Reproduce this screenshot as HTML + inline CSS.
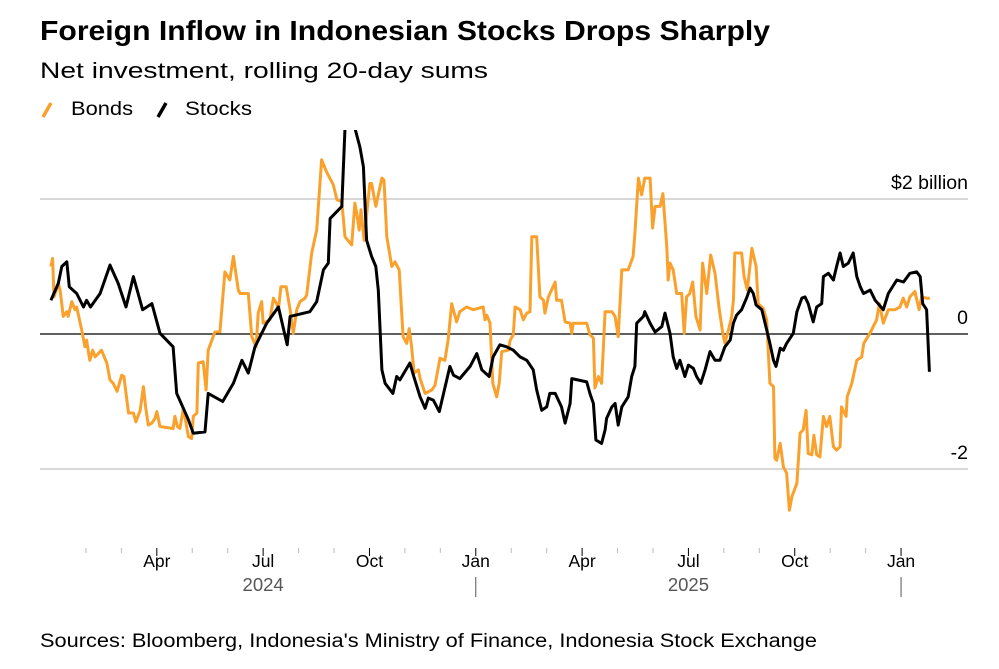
<!DOCTYPE html>
<html><head><meta charset="utf-8"><style>
body{margin:0;background:#fff;width:999px;height:669px;overflow:hidden;font-family:"Liberation Sans",sans-serif}
svg{position:absolute;left:0;top:0}
</style></head><body>
<svg id="c" width="999" height="669">
<text x="40" y="40" font-size="28" font-weight="bold" fill="#000" textLength="730" lengthAdjust="spacingAndGlyphs">Foreign Inflow in Indonesian Stocks Drops Sharply</text>
<text x="40" y="78" font-size="22" fill="#000" textLength="448" lengthAdjust="spacingAndGlyphs">Net investment, rolling 20-day sums</text>
<g>
<line x1="43" y1="117" x2="51" y2="103" stroke="#f9a12c" stroke-width="3.5"/>
<text x="71" y="115" font-size="19" textLength="62" lengthAdjust="spacingAndGlyphs">Bonds</text>
<line x1="158" y1="117" x2="166" y2="103" stroke="#000" stroke-width="3.5"/>
<text x="185" y="115" font-size="19" textLength="67" lengthAdjust="spacingAndGlyphs">Stocks</text>
</g>
<defs><clipPath id="pc"><rect x="30" y="130" width="960" height="420"/></clipPath></defs>
<g id="grid"></g><g id="axis"></g>
<g id="lines" clip-path="url(#pc)"></g>
<text x="40" y="647" font-size="19" textLength="777" lengthAdjust="spacingAndGlyphs">Sources: Bloomberg, Indonesia's Ministry of Finance, Indonesia Stock Exchange</text>
</svg>
<script>
// months since Jan 1 2024, values in $ billions
const stockMonths=[0.01,0.22,0.32,0.46,0.53,0.74,0.93,1.02,1.13,1.40,1.68,1.91,2.13,2.34,2.60,2.86,3.09,3.46,3.56,3.89,4.03,4.36,4.45,4.86,5.16,5.40,5.58,5.77,6.10,6.43,6.68,6.76,7.32,7.51,7.70,7.84,7.89,8.22,8.31,8.59,8.73,8.83,8.92,9.06,9.18,9.25,9.35,9.44,9.66,9.77,9.86,10.05,10.14,10.24,10.43,10.57,10.66,10.80,10.97,11.27,11.37,11.55,11.84,12.03,12.17,12.38,12.49,12.68,12.87,13.06,13.25,13.44,13.62,13.72,13.86,14.00,14.09,14.24,14.42,14.52,14.66,14.71,15.13,15.22,15.32,15.39,15.55,15.65,15.69,15.84,15.93,16.02,16.12,16.30,16.40,16.49,16.54,16.73,16.77,16.92,17.06,17.25,17.34,17.48,17.57,17.67,17.76,17.90,18.00,18.14,18.23,18.35,18.47,18.61,18.75,18.89,19.03,19.18,19.27,19.36,19.50,19.64,19.74,19.83,19.91,20.07,20.21,20.30,20.40,20.47,20.59,20.68,20.77,20.96,21.06,21.20,21.29,21.38,21.52,21.62,21.76,21.81,21.95,22.09,22.18,22.28,22.37,22.51,22.65,22.75,22.85,22.94,23.13,23.27,23.50,23.64,23.88,24.07,24.25,24.44,24.54,24.61,24.72,24.80];
const stockValues=[0.50,0.75,1.00,1.07,0.70,0.60,0.40,0.50,0.40,0.60,1.02,0.75,0.40,0.85,0.36,0.45,0.01,-0.19,-0.88,-1.27,-1.47,-1.45,-0.88,-1.00,-0.73,-0.39,-0.58,-0.19,0.16,0.40,-0.16,0.26,0.33,0.48,0.95,1.05,1.71,1.89,3.05,3.05,2.77,2.48,1.39,1.15,1.00,0.65,-0.53,-0.73,-0.88,-0.63,-0.68,-0.51,-0.43,-0.61,-0.93,-1.10,-0.95,-0.98,-1.15,-0.48,-0.61,-0.66,-0.48,-0.29,-0.53,-0.63,-0.34,-0.16,-0.19,-0.24,-0.34,-0.39,-0.53,-0.83,-1.13,-1.08,-0.88,-0.88,-1.08,-1.32,-1.03,-0.66,-0.71,-0.88,-1.03,-1.57,-1.62,-1.42,-1.25,-1.08,-1.03,-1.35,-1.08,-0.93,-0.63,-0.48,0.16,0.26,0.33,0.16,0.03,0.11,0.31,0.01,-0.34,-0.51,-0.39,-0.63,-0.46,-0.51,-0.63,-0.73,-0.53,-0.26,-0.39,-0.39,-0.19,-0.09,0.16,0.28,0.36,0.53,0.68,0.60,0.43,0.36,0.06,-0.14,-0.39,-0.48,-0.21,-0.24,-0.14,0.01,0.33,0.53,0.55,0.45,0.18,0.40,0.45,0.85,0.90,0.80,1.00,1.20,1.00,1.05,1.20,0.85,0.70,0.60,0.65,0.50,0.36,0.60,0.80,0.77,0.90,0.92,0.85,0.45,0.36,-0.56];
const bondMonths=[0.01,0.06,0.10,0.22,0.27,0.36,0.46,0.50,0.60,0.69,0.74,0.88,0.97,1.02,1.11,1.19,1.26,1.44,1.59,1.68,1.77,1.88,2.01,2.07,2.20,2.34,2.41,2.53,2.62,2.69,2.76,2.86,2.95,3.00,3.09,3.46,3.51,3.58,3.65,3.75,3.89,3.98,4.03,4.13,4.17,4.31,4.39,4.45,4.64,4.78,4.92,5.06,5.16,5.30,5.35,5.58,5.68,5.80,5.86,5.96,6.00,6.19,6.29,6.38,6.43,6.50,6.65,6.76,6.85,6.95,7.04,7.18,7.23,7.37,7.51,7.65,7.79,7.98,8.08,8.22,8.31,8.50,8.59,8.64,8.71,8.76,8.85,9.01,9.06,9.18,9.35,9.41,9.49,9.63,9.72,9.84,9.95,10.05,10.12,10.19,10.26,10.38,10.43,10.57,10.76,10.85,10.99,11.13,11.22,11.32,11.46,11.55,11.74,11.93,12.21,12.26,12.31,12.40,12.48,12.59,12.66,12.73,12.92,12.97,13.06,13.11,13.25,13.34,13.44,13.53,13.58,13.72,13.81,13.91,13.95,14.05,14.24,14.28,14.42,14.52,14.66,14.71,14.75,15.13,15.22,15.32,15.36,15.46,15.55,15.65,15.84,15.93,16.02,16.12,16.30,16.44,16.49,16.59,16.68,16.77,16.92,16.99,17.06,17.20,17.28,17.39,17.43,17.48,17.57,17.67,17.81,17.88,17.95,18.04,18.12,18.21,18.33,18.40,18.52,18.63,18.75,18.87,18.97,19.03,19.13,19.22,19.27,19.31,19.50,19.57,19.66,19.79,19.91,19.97,20.11,20.21,20.30,20.40,20.44,20.49,20.59,20.68,20.77,20.85,20.92,21.06,21.15,21.24,21.32,21.38,21.48,21.54,21.62,21.71,21.81,21.90,21.99,22.09,22.18,22.28,22.32,22.45,22.48,22.61,22.75,22.89,22.95,23.12,23.31,23.39,23.50,23.64,23.83,23.97,24.06,24.16,24.25,24.39,24.51,24.58,24.72,24.81];
const bondValues=[1.00,1.12,0.55,0.75,0.65,0.26,0.33,0.26,0.48,0.36,0.40,0.06,-0.19,-0.09,-0.39,-0.24,-0.34,-0.24,-0.43,-0.68,-0.73,-0.85,-0.61,-0.63,-1.17,-1.17,-1.30,-1.13,-0.78,-1.10,-1.35,-1.32,-1.25,-1.15,-1.37,-1.40,-1.22,-1.37,-1.40,-1.10,-1.52,-1.55,-1.22,-1.17,-0.43,-0.41,-0.83,-0.24,0.03,0.03,0.92,0.80,1.15,0.65,0.60,0.60,-0.04,-0.19,0.31,0.48,0.16,0.21,0.53,0.45,0.36,0.70,0.70,0.36,0.01,0.36,0.48,0.53,0.58,1.20,1.54,2.58,2.40,2.21,1.99,1.96,1.44,1.32,1.94,1.79,1.54,1.84,1.39,2.23,2.23,1.89,2.31,2.28,1.44,1.00,1.07,0.95,-0.04,-0.14,0.08,-0.19,-0.58,-0.53,-0.66,-0.88,-0.83,-0.76,-0.36,-0.39,-0.09,0.45,0.18,0.33,0.40,0.36,0.40,0.21,0.28,0.16,-0.73,-0.93,-0.73,-0.26,-0.24,-0.09,-0.01,0.40,0.36,0.21,0.31,0.33,1.44,1.44,0.55,0.50,0.31,0.55,0.77,0.50,0.50,0.18,0.16,0.01,0.16,0.16,-0.01,-0.06,-0.80,-0.63,-0.73,0.33,0.33,0.26,-0.04,0.95,0.95,1.15,1.49,2.31,2.06,2.31,2.31,1.57,1.89,1.89,2.08,1.29,0.80,1.05,0.95,0.60,0.60,0.01,0.55,0.60,0.77,0.26,0.06,1.05,0.60,1.17,0.90,0.36,0.01,-0.14,0.06,0.26,0.50,1.20,1.20,0.85,0.65,1.27,1.00,0.45,0.38,0.21,-0.73,-0.78,-1.84,-1.87,-1.62,-1.97,-2.06,-2.61,-2.41,-2.21,-1.47,-1.42,-1.13,-1.77,-1.79,-1.50,-1.79,-1.82,-1.22,-1.37,-1.22,-1.67,-1.72,-1.67,-1.08,-1.22,-0.93,-0.73,-0.39,-0.34,-0.14,0.01,0.21,0.45,0.16,0.36,0.36,0.40,0.53,0.40,0.55,0.63,0.36,0.55,0.53,0.53];
const yTicks=[2,0,-2];
const yTickLabels=["$2 billion","0","-2"];
const monthLabels=[[3,"Apr"],[6,"Jul"],[9,"Oct"],[12,"Jan"],[15,"Apr"],[18,"Jul"],[21,"Oct"],[24,"Jan"]];
const yearLabels=[[6,"2024"],[18,"2025"]];
const yearSeps=[12,24];

const NS="http://www.w3.org/2000/svg";
const X=m=>50.5+m*35.44;
const Y=v=>334-v*67.5;
function mk(tag,attrs,parent){const e=document.createElementNS(NS,tag);for(const k in attrs)e.setAttribute(k,attrs[k]);parent.appendChild(e);return e;}
const grid=document.getElementById('grid'),axis=document.getElementById('axis'),lines=document.getElementById('lines');
yTicks.forEach((t,i)=>{
  const l=mk('line',{x1:40,x2:968,y1:Y(t),y2:Y(t),stroke:t===0?'#000':'#ccc','stroke-width':t===0?1.2:1.5},grid);
  
  
  const tx=mk('text',{x:968,y:Y(t)-10,'text-anchor':'end','font-size':19.5},grid);
  tx.textContent=yTickLabels[i];
  
  
});
for(let m=1;m<=24;m++){
  const major=m%3===0;
  const t=mk('line',{x1:X(m),x2:X(m),y1:548,y2:major?556:553,stroke:major?'#000':'#bbb','stroke-width':1},axis);
  
  
}
monthLabels.forEach(([m,s])=>{
  const t=mk('text',{x:X(m),y:567,'text-anchor':'middle','font-size':17.5},axis);
  t.textContent=s;
  
  
});
yearLabels.forEach(([m,s])=>{
  const t=mk('text',{x:X(m),y:591,'text-anchor':'middle','font-size':18.5,fill:'#555'},axis);
  t.textContent=s;
  
  
});
yearSeps.forEach(m=>{
  const l=mk('line',{x1:X(m),x2:X(m),y1:577,y2:597,stroke:'#555','stroke-width':1},axis);
  
  
});
function path(ms,vs){return ms.map((m,i)=>(i?'L':'M')+X(m).toFixed(1)+','+Y(vs[i]).toFixed(1)).join('');}
const bp=mk('path',{d:path(bondMonths,bondValues),fill:'none',stroke:'#f9a12c','stroke-width':3,'stroke-linejoin':'round'},lines);


const sp=mk('path',{d:path(stockMonths,stockValues),fill:'none',stroke:'#000','stroke-width':3,'stroke-linejoin':'round'},lines);


</script>
</body></html>
